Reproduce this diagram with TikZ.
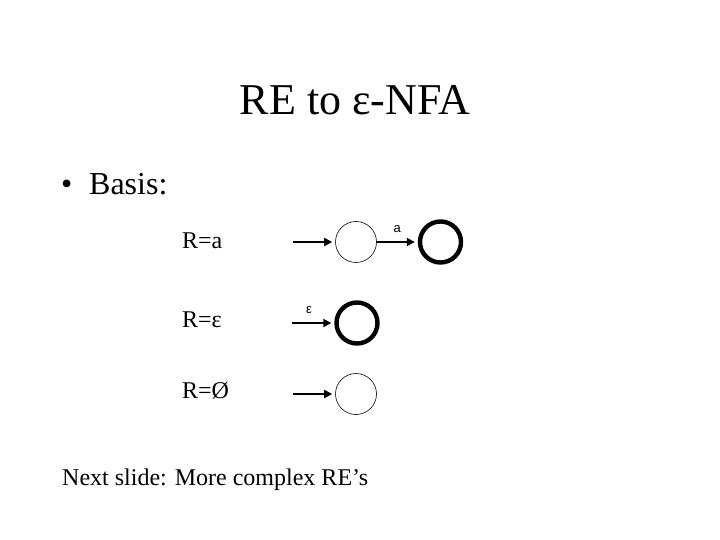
\documentclass[tikz,border=0pt]{standalone}
\usepackage{fontspec}
\setmainfont{Liberation Serif}
\newfontfamily\labelfont{Liberation Sans}
\usetikzlibrary{positioning,arrows.meta}

\begin{document}
\begin{tikzpicture}[x=1pt, y=-1pt,
        txt/.style={anchor=base west, inner sep=0pt, font=\fontsize{24}{28}\selectfont},
        state/.style={draw, circle, minimum size=41pt, inner sep=0pt, line width=0.6pt},
        accept/.style={state, line width=4.4pt},
        trans/.style={-{Triangle[length=8pt, width=8pt]}, line width=1.8pt, shorten >=3pt},
        lbl/.style={font=\labelfont\fontsize{13}{15}\selectfont, inner sep=0pt},
        node distance=42pt]
        \useasboundingbox (0,0) rectangle (720,540);

        % title and bullet
        \node[anchor=base, inner sep=0pt, font=\fontsize{44}{50}\selectfont] (title) at (355,115) {RE to ε-NFA};
        \node[anchor=base west, inner sep=0pt, font=\fontsize{32}{38}\selectfont] (basis) at (61,195) {\makebox[28pt][l]{\textbullet}Basis:};

        % R=a
        \node[txt] (ra) at (182,248) {R=a};
        \node[state] (a0) at (356,242) {};
        \node[accept, right=41pt of a0] (a1) {};
        \coordinate[left=of a0] (ain);

        % R=eps
        \node[txt] (re) at (182,327) {R=ε};
        \node[accept] (e0) at (357,323) {};
        \coordinate[left=of e0] (ein);

        % R=empty
        \node[txt] (rn) at (182,398) {R=Ø};
        \node[state] (n0) at (356,394) {};
        \coordinate[left=of n0] (nin);

        \node[txt] (next) at (62,485) {Next slide: More complex RE’s};

        \draw[trans] (ain) -- (a0);
        \draw[trans] (a0) -- node[lbl, above=8pt] {a} (a1);
        \draw[trans] (ein) -- node[lbl, pos=0.4, above=8pt] {ε} (e0);
        \draw[trans] (nin) -- (n0);
    \end{tikzpicture}
\end{document}
